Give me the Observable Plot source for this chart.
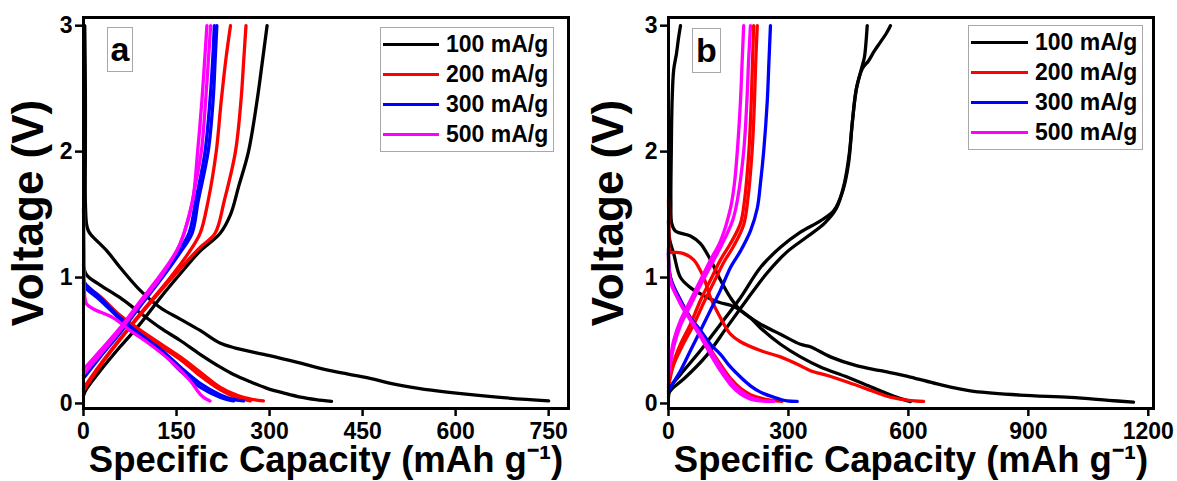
<!DOCTYPE html>
<html>
<head>
<meta charset="utf-8">
<script src="https://cdn.jsdelivr.net/npm/d3@7"></script>
<script src="https://cdn.jsdelivr.net/npm/@observablehq/plot@0.6"></script>
<style>
  html, body { margin: 0; padding: 0; background: #fff; }
  body { font-family: "Liberation Sans", Arial, sans-serif; }
  #wrap { position: relative; width: 1177px; height: 481px; overflow: hidden; }
  .panel { position: absolute; top: 0; }
  .legend { position: absolute; border: 1px solid #a8a8a8; background: #fff; box-sizing: border-box; padding-top: 1px; }
  .legend .row { height: 30px; display: flex; align-items: center; }
  .legend .sw { height: 3px; margin-left: 2px; }
  .legend .lab { font-weight: bold; font-size: 23px; color: #000; margin-left: 7px; white-space: nowrap; }
  .tag { position: absolute; border: 1px solid #a8a8a8; background: #fff; box-sizing: border-box;
         font-weight: bold; font-size: 34px; display: flex; align-items: center; justify-content: center; color: #000; }
</style>
</head>
<body>
<div id="wrap"></div>
<script>
// ---------------- data ----------------
const rates = ["100 mA/g", "200 mA/g", "300 mA/g", "500 mA/g"];
const rateColors = ["#000000", "#ff0000", "#0000ff", "#ff00ff"];
const xTicksA = [0, 150, 300, 450, 600, 750];
const xTicksB = [0, 300, 600, 900, 1200];
const yTicks = [0, 1, 2, 3];
const xLabel = "Specific Capacity (mAh g\u207B\u00B9)";
const yLabel = "Voltage (V)";

// Panel a: [capacity mAh/g, voltage V]
const a100_d1 = [[2,3.0],[3,2.5],[3,2.0],[3,1.6],[5,1.42],[8,1.37],[12,1.34],[38,1.21],[59,1.08],[91,0.9],[124,0.76],[156,0.67],[188,0.58],[220,0.48],[245,0.44],[300,0.38],[350,0.32],[398,0.26],[462,0.2],[495,0.16],[540,0.12],[586,0.09],[667,0.05],[750,0.02]];
const a100_d2 = [[0,1.1],[5,1.02],[27,0.94],[59,0.84],[91,0.72],[124,0.6],[156,0.5],[188,0.39],[220,0.29],[242,0.23],[270,0.17],[296,0.12],[325,0.08],[350,0.05],[375,0.03],[400,0.016]];
const a100_c1 = [[0,0.06],[3,0.1],[27,0.26],[59,0.45],[91,0.63],[124,0.84],[156,1.03],[188,1.21],[220,1.35],[237,1.5],[250,1.72],[266,2.0],[280,2.41],[288,2.7],[296,3.0]];
const a200_d1 = [[0,0.95],[5,0.92],[27,0.84],[59,0.68],[107,0.51],[156,0.35],[188,0.22],[220,0.11],[245,0.05],[269,0.02]];
const a200_d2 = [[0,0.96],[5,0.93],[27,0.85],[59,0.7],[107,0.53],[156,0.37],[188,0.25],[220,0.13],[250,0.06],[270,0.035],[290,0.02]];
const a200_c1 = [[0,0.12],[27,0.31],[91,0.71],[140,1.0],[170,1.2],[188,1.35],[201,1.61],[214,2.0],[222,2.4],[230,2.75],[237,3.0]];
const a200_c2 = [[0,0.1],[27,0.3],[91,0.7],[156,1.07],[188,1.24],[212,1.35],[227,1.61],[245,2.0],[254,2.41],[258,2.7],[262,3.0]];
const a300_d1 = [[0,0.98],[3,0.95],[27,0.84],[59,0.68],[91,0.55],[124,0.42],[156,0.26],[188,0.13],[220,0.05],[242,0.02]];
const a300_d2 = [[0,0.95],[3,0.92],[27,0.82],[59,0.67],[91,0.55],[124,0.43],[156,0.29],[188,0.16],[220,0.07],[240,0.035],[258,0.02]];
const a300_c1 = [[0,0.2],[27,0.37],[59,0.56],[91,0.77],[124,0.98],[156,1.2],[175,1.35],[185,1.61],[201,2.0],[209,2.41],[212,2.7],[215,3.0]];
const a300_c2 = [[0,0.22],[27,0.38],[59,0.57],[91,0.78],[124,0.99],[152,1.2],[170,1.35],[181,1.61],[196,2.0],[204,2.41],[208,2.7],[211,3.0]];
const a500_d1 = [[0,1.55],[1,1.2],[2,0.85],[5,0.79],[16,0.75],[48,0.68],[75,0.58],[107,0.47],[140,0.34],[172,0.18],[188,0.075],[196,0.04],[204,0.02]];
const a500_c1 = [[0,0.23],[27,0.39],[59,0.58],[91,0.79],[124,1.0],[156,1.27],[172,1.53],[181,1.75],[190,2.0],[197,2.41],[201,2.7],[205,3.0]];
const a500_c2 = [[0,0.27],[27,0.42],[59,0.6],[91,0.81],[124,1.02],[150,1.21],[162,1.35],[176,1.61],[184,2.0],[191,2.41],[195,2.7],[199,3.0]];

// Panel b
const b100_d1 = [[30,3.0],[25,2.9],[20,2.78],[13,2.65],[9,2.4],[7,2.0],[6,1.6],[8,1.43],[17,1.37],[55,1.33],[80,1.27],[105,1.14],[130,0.98],[155,0.84],[180,0.74],[230,0.63],[280,0.55],[330,0.47],[355,0.45],[405,0.37],[470,0.3],[530,0.26],[605,0.21],[672,0.155],[755,0.1],[880,0.067],[1005,0.048],[1100,0.025],[1163,0.01]];
const b100_d2 = [[0,1.45],[3,1.3],[13,1.19],[30,1.0],[55,0.92],[80,0.87],[105,0.83],[130,0.8],[155,0.78],[180,0.74],[205,0.68],[230,0.6],[280,0.47],[330,0.37],[380,0.29],[447,0.21],[500,0.14],[530,0.1],[570,0.05],[605,0.015]];
const b100_c1 = [[0,0.05],[5,0.13],[30,0.23],[80,0.42],[130,0.63],[180,0.84],[230,1.08],[280,1.24],[330,1.36],[380,1.45],[413,1.53],[435,1.68],[450,1.9],[460,2.24],[470,2.5],[482,2.65],[490,2.75],[494,2.87],[497,3.0]];
const b100_c2 = [[0,0.08],[10,0.12],[40,0.2],[95,0.38],[145,0.6],[195,0.82],[245,1.03],[295,1.2],[345,1.32],[390,1.43],[420,1.55],[440,1.75],[452,1.98],[460,2.24],[470,2.5],[485,2.66],[500,2.72],[515,2.8],[530,2.87],[545,2.94],[555,3.0]];
const b200_d1 = [[0,1.62],[1,1.4],[2,1.22],[5,1.2],[17,1.2],[38,1.19],[63,1.14],[88,1.0],[105,0.84],[130,0.68],[155,0.55],[180,0.49],[230,0.42],[280,0.37],[330,0.3],[355,0.26],[400,0.22],[447,0.17],[500,0.11],[530,0.075],[555,0.05],[600,0.025],[638,0.016]];
const b200_d2 = [[0,1.2],[5,1.0],[30,0.82],[55,0.68],[80,0.56],[105,0.43],[130,0.31],[155,0.2],[180,0.12],[205,0.07],[240,0.035],[284,0.016]];
const b200_c1 = [[0,0.15],[10,0.3],[30,0.47],[55,0.63],[80,0.82],[105,0.98],[130,1.14],[155,1.27],[180,1.43],[190,1.61],[201,2.0],[207,2.4],[210,2.7],[213,3.0]];
const b200_c2 = [[0,0.13],[12,0.3],[35,0.46],[62,0.62],[88,0.8],[113,0.96],[138,1.12],[163,1.25],[188,1.42],[198,1.61],[209,2.0],[215,2.4],[218,2.7],[222,3.0]];
const b300_d1 = [[0,1.23],[5,1.0],[30,0.82],[55,0.68],[80,0.58],[105,0.47],[130,0.39],[155,0.29],[180,0.21],[205,0.14],[230,0.09],[263,0.05],[297,0.02],[322,0.016]];
const b300_c1 = [[0,0.1],[13,0.17],[30,0.26],[55,0.42],[80,0.58],[105,0.74],[130,0.9],[155,1.08],[180,1.21],[205,1.37],[222,1.55],[230,1.75],[238,2.0],[247,2.4],[251,2.7],[255,3.0]];
const b500_d1 = [[0,1.14],[5,0.98],[30,0.79],[55,0.66],[80,0.53],[105,0.39],[130,0.26],[155,0.15],[180,0.075],[205,0.035],[235,0.02],[263,0.016]];
const b500_d2 = [[0,1.1],[5,0.96],[30,0.8],[55,0.67],[80,0.55],[105,0.42],[130,0.29],[155,0.18],[180,0.1],[205,0.05],[230,0.025],[250,0.016]];
const b500_c1 = [[0,0.26],[13,0.5],[30,0.66],[55,0.82],[80,0.98],[105,1.14],[130,1.29],[155,1.55],[165,1.75],[172,2.0],[180,2.4],[184,2.7],[188,3.0]];
const b500_c2 = [[0,0.22],[13,0.45],[30,0.62],[55,0.78],[80,0.94],[105,1.09],[130,1.24],[160,1.45],[172,1.61],[188,2.0],[196,2.4],[200,2.7],[205,3.0]];

const seriesA = [
  [rates[0], a100_d1], [rates[0], a100_d2], [rates[0], a100_c1],
  [rates[1], a200_d1], [rates[1], a200_d2], [rates[1], a200_c1], [rates[1], a200_c2],
  [rates[2], a300_d1], [rates[2], a300_d2], [rates[2], a300_c1], [rates[2], a300_c2],
  [rates[3], a500_d1], [rates[3], a500_c1], [rates[3], a500_c2]
];
const seriesB = [
  [rates[0], b100_d1], [rates[0], b100_d2], [rates[0], b100_c1], [rates[0], b100_c2],
  [rates[1], b200_d1], [rates[1], b200_d2], [rates[1], b200_c1], [rates[1], b200_c2],
  [rates[2], b300_d1], [rates[2], b300_c1],
  [rates[3], b500_d1], [rates[3], b500_d2], [rates[3], b500_c1], [rates[3], b500_c2]
];

// ---------------- drawing ----------------
function toRows(series) {
  return series.flatMap(([rate, pts], id) => pts.map(([cap, v]) => ({cap, v, rate, id})));
}

function panel({series, xMax, xTicks, width, marginRight, yLabelDx}) {
  return Plot.plot({
    width, height: 481,
    marginLeft: 83, marginRight, marginTop: 17, marginBottom: 73,
    style: {fontFamily: "'Liberation Sans', Arial, sans-serif", background: "transparent", color: "#000", overflow: "visible"},
    x: {domain: [0, xMax]},
    y: {domain: [-0.04, 3.065]},
    color: {domain: rates, range: rateColors},
    marks: [
      Plot.line(toRows(series), {x: "cap", y: "v", z: "id", stroke: "rate", strokeWidth: 3.3, curve: "catmull-rom"}),
      Plot.frame({stroke: "#000", strokeWidth: 3}),
      Plot.axisX({ticks: xTicks, tickFormat: d => String(d), tickSize: 8, tickPadding: 6, fontSize: 23, fontWeight: "bold", strokeWidth: 2.5, label: null}),
      Plot.axisY({ticks: yTicks, tickFormat: d => String(d), tickSize: 8, tickPadding: 3, fontSize: 23, fontWeight: "bold", strokeWidth: 2.5, label: null}),
      Plot.text([xLabel], {text: d => d, frameAnchor: "bottom", textAnchor: "middle", lineAnchor: "middle", dy: 52, fontSize: 36.5, fontWeight: "bold", fill: "#000"}),
      Plot.text([yLabel], {text: d => d, frameAnchor: "left", textAnchor: "middle", lineAnchor: "middle", dx: yLabelDx, rotate: -90, fontSize: 44, fontWeight: "bold", fill: "#000"})
    ]
  });
}

const wrap = document.getElementById("wrap");

const pa = panel({series: seriesA, xMax: 782, xTicks: xTicksA, width: 585, marginRight: 17, yLabelDx: -55});
pa.classList.add("panel"); pa.style.left = "0px";
wrap.appendChild(pa);

const pb = panel({series: seriesB, xMax: 1213, xTicks: xTicksB, width: 592, marginRight: 24, yLabelDx: -60});
pb.classList.add("panel"); pb.style.left = "585px";
wrap.appendChild(pb);

function legend(left, top, width, lineW) {
  const d = document.createElement("div");
  d.className = "legend";
  Object.assign(d.style, {left: left + "px", top: top + "px", width: width + "px", height: "125px"});
  rates.forEach((r, i) => {
    const row = document.createElement("div"); row.className = "row";
    const sw = document.createElement("div"); sw.className = "sw";
    sw.style.width = lineW + "px"; sw.style.background = rateColors[i];
    const lab = document.createElement("span"); lab.className = "lab"; lab.textContent = r;
    row.appendChild(sw); row.appendChild(lab); d.appendChild(row);
  });
  wrap.appendChild(d);
}
legend(380, 27, 174, 56);
legend(968, 25, 175, 57);

function tag(text, left, top, w, h) {
  const t = document.createElement("div");
  t.className = "tag"; t.textContent = text;
  Object.assign(t.style, {left: left + "px", top: top + "px", width: w + "px", height: h + "px"});
  wrap.appendChild(t);
}
tag("a", 107, 27, 26, 45);
tag("b", 692, 28, 29, 45);
</script>
</body>
</html>
